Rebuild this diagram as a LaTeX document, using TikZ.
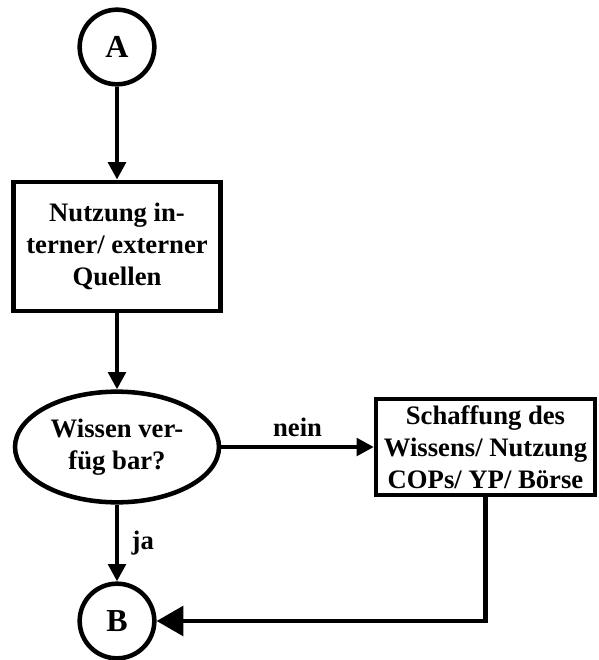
\documentclass[tikz,border=0pt]{standalone}
\usepackage{fontspec}
\setmainfont{Liberation Serif}
\usetikzlibrary{shapes.geometric,arrows.meta}

\begin{document}
\begin{tikzpicture}[x=0.75pt, y=-0.75pt,
    every node/.style={font=\bfseries\fontsize{20}{24}\selectfont},
    conn/.style={circle, draw=black, line width=3.4pt, minimum size=56pt, inner sep=0pt, font=\bfseries\fontsize{24}{28}\selectfont},
    box/.style={rectangle, draw=black, line width=3.4pt, align=center, inner sep=0pt},
    ask/.style={ellipse, draw=black, line width=3.4pt, align=center, minimum width=153pt, minimum height=83pt, inner sep=0pt},
    flow/.style={black, line width=3.4pt, -{Triangle[length=13pt,width=13pt]}},
    bigflow/.style={black, line width=3.4pt, -{Triangle[length=20pt,width=22pt]}}]
    \useasboundingbox (0,0) rectangle (599,660);

    \node[conn] (A) at (117,47) {A};

    \node[box, minimum width=155pt, minimum height=97pt] (quellen) at (117,246.5)
        {Nutzung in-\\terner/ externer\\Quellen};

    \node[ask] (wissen) at (117,447) {Wissen ver-\\füg bar?};

    \node[box, minimum width=164pt, minimum height=72pt] (schaffung) at (485.5,447)
        {Schaffung des\\Wissens/ Nutzung\\COPs/ YP/ Börse};

    \node[conn] (B) at (117,621) {B};

    \draw[flow] (A) -- (quellen);
    \draw[flow] (quellen) -- (wissen);
    \draw[flow] (wissen) -- node[above=3pt] (nein) {nein} (schaffung);
    \draw[flow] (wissen) -- node[right=6pt] (ja) {ja} (B);
    \draw[bigflow] (schaffung.south) |- (B);

\end{tikzpicture}
\end{document}
